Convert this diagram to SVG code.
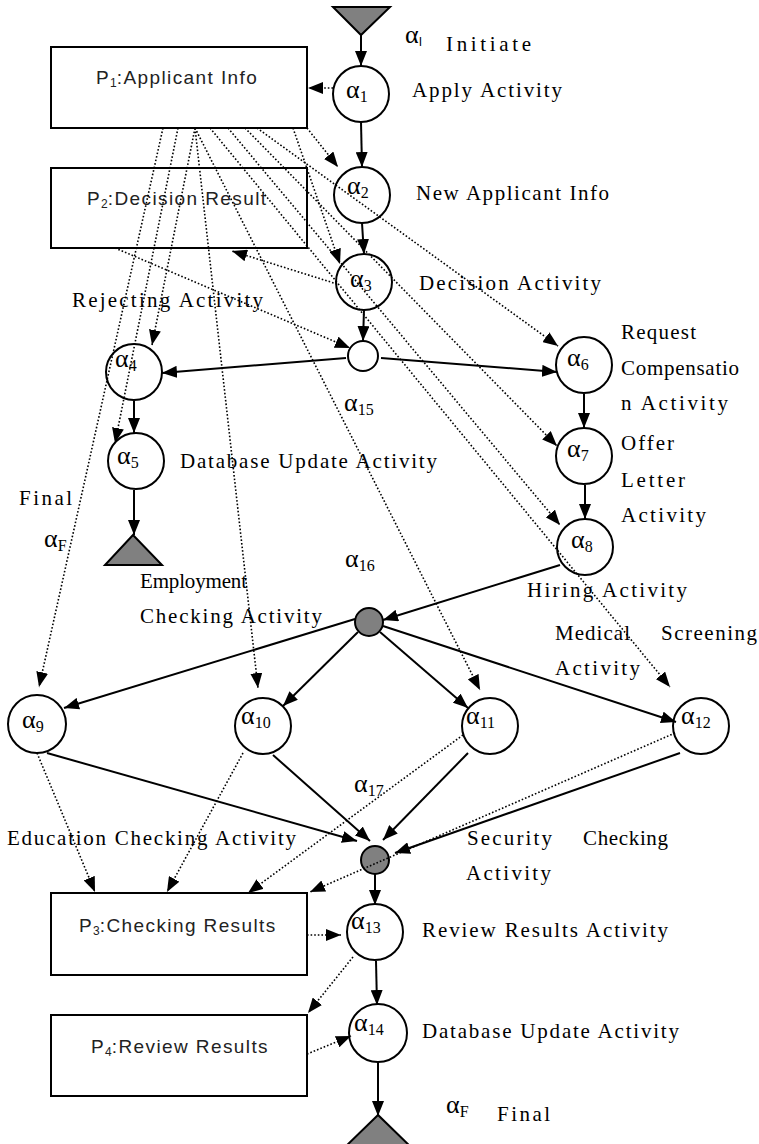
<svg xmlns="http://www.w3.org/2000/svg" width="759" height="1144" viewBox="0 0 759 1144">
<style>
.c{fill:#fff;stroke:#000;stroke-width:2}
.g{fill:#808080;stroke:#000;stroke-width:2}
.b{fill:none;stroke:#000;stroke-width:2}
.bt{font-family:"Liberation Sans",Arial,sans-serif;font-size:19px;letter-spacing:1.4px;fill:#222}
.bs{font-size:12px;letter-spacing:0}
.a{font-family:"Liberation Serif","Times New Roman",serif;font-size:26px;fill:#000}
.s{font-size:16px}
.l{font-family:"Liberation Serif","Times New Roman",serif;font-size:21px;fill:#000}
.sl{fill:none;stroke:#000;stroke-width:2}
.dl{fill:none;stroke:#000;stroke-width:1.6;stroke-dasharray:1.6 2}
</style>
<defs>
<marker id="ah" viewBox="0 0 15 12" refX="15" refY="6" markerWidth="15" markerHeight="12" markerUnits="userSpaceOnUse" orient="auto"><path d="M0,0 L15,6 L0,12 z" fill="#000"/></marker>
</defs>

<g id="start"><polygon class="g" points="333,7 390,7 361,35"/></g>
<g id="end1"><polygon class="g" points="133,535 105,565 162,565"/></g>
<g id="end2"><polygon class="g" points="378,1115 342,1150 414,1150"/></g>

<g id="P1"><rect class="b" x="51" y="47" width="256" height="81"/><text class="bt" x="96" y="84">P<tspan class="bs" dy="3">1</tspan><tspan dy="-3">:Applicant Info</tspan></text></g>
<g id="P2"><rect class="b" x="51" y="168" width="256" height="80"/><text class="bt" x="87" y="205">P<tspan class="bs" dy="3">2</tspan><tspan dy="-3">:Decision Result</tspan></text></g>
<g id="P3"><rect class="b" x="51" y="893" width="256" height="82"/><text class="bt" x="79" y="932">P<tspan class="bs" dy="3">3</tspan><tspan dy="-3">:Checking Results</tspan></text></g>
<g id="P4"><rect class="b" x="51" y="1015" width="256" height="81"/><text class="bt" x="91" y="1053">P<tspan class="bs" dy="3">4</tspan><tspan dy="-3">:Review Results</tspan></text></g>

<g id="a1"><circle class="c" cx="361" cy="94" r="28"/><text class="a" x="346" y="98">α<tspan class="s" dy="4">1</tspan></text></g>
<g id="a2"><circle class="c" cx="362" cy="195" r="28"/><text class="a" x="347" y="194">α<tspan class="s" dy="4">2</tspan></text></g>
<g id="a3"><circle class="c" cx="364" cy="282" r="28"/><text class="a" x="350" y="287">α<tspan class="s" dy="4">3</tspan></text></g>
<g id="a4"><circle class="c" cx="134" cy="372" r="28"/><text class="a" x="115" y="367">α<tspan class="s" dy="4">4</tspan></text></g>
<g id="a5"><circle class="c" cx="136" cy="461" r="28"/><text class="a" x="117" y="464">α<tspan class="s" dy="4">5</tspan></text></g>
<g id="a6"><circle class="c" cx="584" cy="365" r="28"/><text class="a" x="567" y="366">α<tspan class="s" dy="4">6</tspan></text></g>
<g id="a7"><circle class="c" cx="584" cy="456" r="28"/><text class="a" x="567" y="457">α<tspan class="s" dy="4">7</tspan></text></g>
<g id="a8"><circle class="c" cx="585" cy="547" r="28"/><text class="a" x="571" y="548">α<tspan class="s" dy="4">8</tspan></text></g>
<g id="a9"><circle class="c" cx="37" cy="724" r="29"/><text class="a" x="22" y="728">α<tspan class="s" dy="4">9</tspan></text></g>
<g id="a10"><circle class="c" cx="263" cy="726" r="28"/><text class="a" x="241" y="724">α<tspan class="s" dy="4">10</tspan></text></g>
<g id="a11"><circle class="c" cx="490" cy="726" r="28"/><text class="a" x="466" y="724">α<tspan class="s" dy="4">11</tspan></text></g>
<g id="a12"><circle class="c" cx="701" cy="726" r="28"/><text class="a" x="681" y="724">α<tspan class="s" dy="4">12</tspan></text></g>
<g id="a13"><circle class="c" cx="375" cy="932" r="28"/><text class="a" x="351" y="929">α<tspan class="s" dy="4">13</tspan></text></g>
<g id="a14"><circle class="c" cx="378" cy="1033" r="29"/><text class="a" x="354" y="1031">α<tspan class="s" dy="4">14</tspan></text></g>
<g id="a15"><circle class="c" cx="363" cy="356" r="15"/><text class="a" x="344" y="411">α<tspan class="s" dy="4">15</tspan></text></g>
<g id="a16"><circle class="g" cx="369" cy="622" r="14"/><text class="a" x="345" y="567">α<tspan class="s" dy="4">16</tspan></text></g>
<g id="a17"><circle class="g" cx="375" cy="860" r="14"/><text class="a" x="354" y="792">α<tspan class="s" dy="4">17</tspan></text></g>

<g id="labels">
<text class="a" x="405" y="43">α<tspan font-family="Liberation Sans,sans-serif" font-size="12" dy="3">I</tspan></text>
<text class="l" x="446" y="51" textLength="85" lengthAdjust="spacing">Initiate</text>
<text class="l" x="412" y="97" textLength="150" lengthAdjust="spacing">Apply Activity</text>
<text class="l" x="416" y="200" textLength="193" lengthAdjust="spacing">New Applicant Info</text>
<text class="l" x="419" y="290" textLength="182" lengthAdjust="spacing">Decision Activity</text>
<text class="l" x="72" y="307" textLength="191" lengthAdjust="spacing">Rejecting Activity</text>
<text class="l" x="621" y="339" textLength="75" lengthAdjust="spacing">Request</text>
<text class="l" x="621" y="375" textLength="118" lengthAdjust="spacing">Compensatio</text>
<text class="l" x="621" y="410" textLength="107" lengthAdjust="spacing">n Activity</text>
<text class="l" x="621" y="450" textLength="53" lengthAdjust="spacing">Offer</text>
<text class="l" x="621" y="487" textLength="64" lengthAdjust="spacing">Letter</text>
<text class="l" x="621" y="522" textLength="85" lengthAdjust="spacing">Activity</text>
<text class="l" x="180" y="468" textLength="257" lengthAdjust="spacing">Database Update Activity</text>
<text class="l" x="19" y="505" textLength="53" lengthAdjust="spacing">Final</text>
<text class="a" x="44" y="547">α<tspan class="s" dy="4">F</tspan></text>
<text class="l" x="140" y="588" textLength="107" lengthAdjust="spacing">Employment</text>
<text class="l" x="140" y="623" textLength="182" lengthAdjust="spacing">Checking Activity</text>
<text class="l" x="527" y="597" textLength="160" lengthAdjust="spacing">Hiring Activity</text>
<text class="l" x="555" y="640" textLength="75" lengthAdjust="spacing">Medical</text>
<text class="l" x="661" y="640" textLength="96" lengthAdjust="spacing">Screening</text>
<text class="l" x="555" y="675" textLength="85" lengthAdjust="spacing">Activity</text>
<text class="l" x="7" y="845" textLength="289" lengthAdjust="spacing">Education Checking Activity</text>
<text class="l" x="467" y="845" textLength="85" lengthAdjust="spacing">Security</text>
<text class="l" x="583" y="845" textLength="85" lengthAdjust="spacing">Checking</text>
<text class="l" x="466" y="880" textLength="85" lengthAdjust="spacing">Activity</text>
<text class="l" x="422" y="937" textLength="246" lengthAdjust="spacing">Review Results Activity</text>
<text class="l" x="422" y="1038" textLength="257" lengthAdjust="spacing">Database Update Activity</text>
<text class="a" x="446" y="1113">α<tspan class="s" dy="4">F</tspan></text>
<text class="l" x="497" y="1121" textLength="53" lengthAdjust="spacing">Final</text>
</g>

<g id="connectors" marker-end="url(#ah)">
<line class="sl" x1="361" y1="35" x2="361" y2="66"/>
<line class="sl" x1="361" y1="122" x2="362" y2="167"/>
<line class="sl" x1="362" y1="223" x2="364" y2="254"/>
<line class="sl" x1="364" y1="310" x2="363" y2="341"/>
<line class="sl" x1="346" y1="358" x2="162" y2="373"/>
<line class="sl" x1="381" y1="358" x2="557" y2="372"/>
<line class="sl" x1="584" y1="394" x2="584" y2="428"/>
<line class="sl" x1="585" y1="485" x2="585" y2="519"/>
<line class="sl" x1="134" y1="401" x2="134" y2="433"/>
<line class="sl" x1="134" y1="490" x2="134" y2="535"/>
<line class="sl" x1="560" y1="565" x2="383" y2="620"/>
<line class="sl" x1="355" y1="619" x2="64" y2="708"/>
<line class="sl" x1="358" y1="632" x2="283" y2="706"/>
<line class="sl" x1="380" y1="632" x2="468" y2="708"/>
<line class="sl" x1="383" y1="626" x2="676" y2="722"/>
<line class="sl" x1="47" y1="753" x2="357" y2="841"/>
<line class="sl" x1="273" y1="755" x2="370" y2="841"/>
<line class="sl" x1="468" y1="753" x2="383" y2="840"/>
<line class="sl" x1="680" y1="753" x2="395" y2="853"/>
<line class="sl" x1="375" y1="874" x2="375" y2="905"/>
<line class="sl" x1="376" y1="961" x2="377" y2="1005"/>
<line class="sl" x1="378" y1="1062" x2="378" y2="1116"/>

<line class="dl" x1="333" y1="88" x2="308" y2="88"/>
<line class="dl" x1="307" y1="128" x2="338" y2="167"/>
<line class="dl" x1="293" y1="128" x2="340" y2="264"/>
<line class="dl" x1="257" y1="128" x2="558" y2="346"/>
<line class="dl" x1="245" y1="128" x2="557" y2="446"/>
<line class="dl" x1="228" y1="128" x2="560" y2="525"/>
<line class="dl" x1="210" y1="128" x2="670" y2="687"/>
<line class="dl" x1="195" y1="128" x2="480" y2="690"/>
<line class="dl" x1="195" y1="128" x2="258" y2="688"/>
<line class="dl" x1="195" y1="128" x2="152" y2="345"/>
<line class="dl" x1="178" y1="128" x2="115" y2="443"/>
<line class="dl" x1="163" y1="128" x2="39" y2="687"/>
<line class="dl" x1="115" y1="248" x2="350" y2="348"/>
<line class="dl" x1="337" y1="284" x2="232" y2="251"/>
<line class="dl" x1="37" y1="753" x2="95" y2="892"/>
<line class="dl" x1="243" y1="753" x2="167" y2="892"/>
<line class="dl" x1="463" y1="735" x2="248" y2="893"/>
<line class="dl" x1="675" y1="733" x2="310" y2="892"/>
<line class="dl" x1="307" y1="935" x2="341" y2="935"/>
<line class="dl" x1="353" y1="957" x2="308" y2="1013"/>
<line class="dl" x1="307" y1="1054" x2="351" y2="1036"/>
</g>
</svg>
